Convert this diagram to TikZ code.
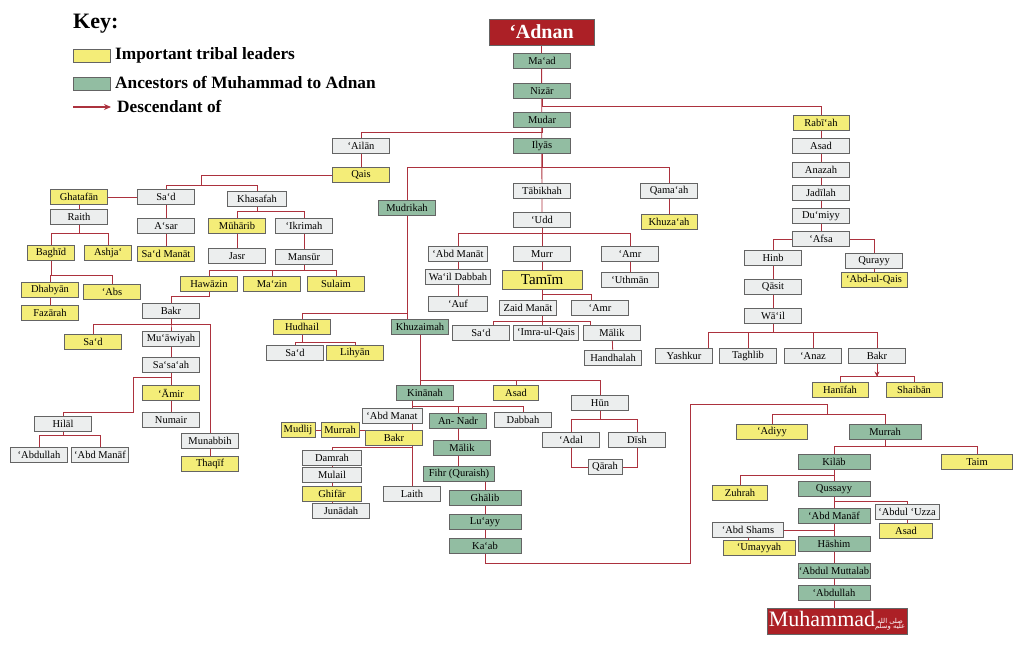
\documentclass[tikz,border=0pt]{standalone}
\usepackage{fontspec}
\setmainfont{Liberation Serif}
\newfontfamily\arabicfont[Script=Arabic]{DejaVu Sans}
\TeXXeTstate=1
\usetikzlibrary{backgrounds,arrows.meta}

\definecolor{leadfill}{RGB}{244,237,120}
\definecolor{ancfill}{RGB}{146,189,162}
\definecolor{memfill}{RGB}{236,238,238}
\definecolor{boxline}{RGB}{100,100,100}
\definecolor{linkred}{RGB}{172,50,62}
\definecolor{headred}{RGB}{172,32,38}

\tikzset{
  box/.style={draw=boxline, line width=0.7pt, minimum width=57pt, minimum height=14.5pt,
    inner sep=0.5pt, font=\fontsize{10.5}{11}\selectfont},
  member/.style={box, fill=memfill},
  leader/.style={box, fill=leadfill},
  ancestor/.style={box, fill=ancfill},
  headbox/.style={draw=boxline, fill=headred, text=white, inner sep=0pt},
  keytext/.style={anchor=west, inner sep=0pt, font=\bfseries\fontsize{17.3}{19}\selectfont},
  link/.style={draw=linkred, line width=0.8pt},
}
\newcommand\sealtext{{\arabicfont\fontsize{6.8}{7}\selectfont
  \begin{tabular}{@{}c@{}}\beginR صلى الله\endR\\[-2pt]\beginR عليه وسلم\endR\end{tabular}}}

\begin{document}
\begin{tikzpicture}[x=1pt,y=-1pt]
\useasboundingbox (0,0) rectangle (1024,647);

% key
\node[anchor=west, inner sep=0pt, font=\bfseries\fontsize{22}{24}\selectfont] (key) at (73,24) {Key:};
\node[leader, minimum width=37pt, minimum height=12.5pt] (keylead) at (91.5,56) {};
\node[keytext] (keyleadtxt) at (115,55) {Important tribal leaders};
\node[ancestor, minimum width=37pt, minimum height=12.5pt] (keyanc) at (91.5,84) {};
\node[keytext] (keyanctxt) at (115,83) {Ancestors of Muhammad to Adnan};
\node[keytext] (keydesc) at (117,106) {Descendant of};
\coordinate (keyarrow) at (73,107);
\draw[link, line width=1.8pt, -{Stealth[length=7pt,width=6pt]}] (keyarrow) -- ([xshift=-6pt]keydesc.west |- keyarrow);

% main line
\node[headbox, minimum width=105pt, minimum height=26pt, font=\bfseries\fontsize{20}{22}\selectfont] (adnan) at (541.5,32) {‘Adnan};
\node[ancestor] (maad) at (542,61) {Ma‘ad};
\node[ancestor] (nizar) at (542,91) {Nizār};
\node[ancestor] (mudar) at (542,120) {Mudar};
\node[ancestor] (ilyas) at (542,146) {Ilyās};

% Qais 'Ailan
\node[member] (ailan) at (361,146) {‘Ailān};
\node[leader] (qais) at (361,175) {Qais};
\node[member] (sada) at (166,197) {Sa‘d};
\node[member, minimum width=59pt] (khasafah) at (257,199) {Khasafah};
\node[leader] (ghatafan) at (79,197) {Ghatafān};
\node[member] (raith) at (79,217) {Raith};
\node[leader, minimum width=47pt] (baghid) at (51,253) {Baghīd};
\node[leader, minimum width=47pt] (ashja) at (108,253) {Ashja‘};
\node[leader] (dhabyan) at (50,290) {Dhabyān};
\node[leader] (abs) at (112,292) {‘Abs};
\node[leader] (fazarah) at (50,313) {Fazārah};
\node[member] (asar) at (166,226) {A‘sar};
\node[leader] (sadmanat) at (166,254) {Sa‘d Manāt};
\node[leader] (muharib) at (237,226) {Mūhārib};
\node[member] (ikrimah) at (304,226) {‘Ikrimah};
\node[member] (jasr) at (237,256) {Jasr};
\node[member] (mansur) at (304,257) {Mansūr};
\node[leader] (hawazin) at (209,284) {Hawāzin};
\node[leader] (mazin) at (272,284) {Ma‘zin};
\node[leader] (sulaim) at (336,284) {Sulaim};
\node[member] (bakra) at (171,311) {Bakr};
\node[leader] (sadb) at (93,342) {Sa‘d};
\node[member] (muawiyah) at (171,339) {Mu‘āwiyah};
\node[member] (sasaah) at (171,365) {Sa‘sa‘ah};
\node[leader] (amir) at (171,393) {‘Āmir};
\node[member] (numair) at (171,420) {Numair};
\node[member] (hilal) at (63,424) {Hilāl};
\node[member] (abdullaha) at (39,455) {‘Abdullah};
\node[member] (abdmanafa) at (100,455) {‘Abd Manāf};
\node[member] (munabbih) at (210,441) {Munabbih};
\node[leader] (thaqif) at (210,464) {Thaqīf};

% Mudrikah
\node[ancestor] (mudrikah) at (407,208) {Mudrikah};
\node[leader] (hudhail) at (302,327) {Hudhail};
\node[member] (sadc) at (295,353) {Sa‘d};
\node[leader] (lihyan) at (355,353) {Lihyān};
\node[ancestor] (khuzaimah) at (420,327) {Khuzaimah};
\node[ancestor] (kinanah) at (425,393) {Kinānah};
\node[leader, minimum width=45pt] (asadb) at (516,393) {Asad};
\node[member] (hun) at (600,403) {Hūn};
\node[member] (adal) at (571,440) {‘Adal};
\node[member] (dish) at (637,440) {Dīsh};
\node[member, minimum width=34pt] (qarah) at (605,467) {Qārah};
\node[member] (dabbah) at (523,420) {Dabbah};
\node[ancestor] (annadr) at (458,421) {An- Nadr};
\node[ancestor] (malikb) at (462,448) {Mālik};
\node[ancestor, minimum width=71pt] (fihr) at (459,474) {Fihr (Quraish)};
\node[ancestor, minimum width=72pt] (ghalib) at (485,498) {Ghālib};
\node[ancestor, minimum width=72pt] (luayy) at (485,522) {Lu‘ayy};
\node[ancestor, minimum width=72pt] (kaab) at (485,546) {Ka‘ab};
\node[member, minimum width=60pt] (abdmanatb) at (392,416) {‘Abd Manat};
\node[leader, minimum width=38pt] (murrahb) at (340,430) {Murrah};
\node[leader, minimum width=34pt] (mudlij) at (298,430) {Mudlij};
\node[leader] (bakrb) at (394,438) {Bakr};
\node[member, minimum width=59pt] (damrah) at (332,458) {Damrah};
\node[member, minimum width=59pt] (mulail) at (332,475) {Mulail};
\node[leader, minimum width=59pt] (ghifar) at (332,494) {Ghifār};
\node[member] (junadah) at (341,511) {Junādah};
\node[member] (laith) at (412,494) {Laith};

% Tabikhah
\node[member] (tabikhah) at (542,191) {Tābikhah};
\node[member] (qamaah) at (669,191) {Qama‘ah};
\node[leader, minimum width=56pt] (khuzaah) at (669,222) {Khuza‘ah};
\node[member] (udd) at (542,220) {‘Udd};
\node[member, minimum width=59pt] (abdmanata) at (458,254) {‘Abd Manāt};
\node[member, minimum width=65pt] (waildabbah) at (458,277) {Wa‘il Dabbah};
\node[member, minimum width=59pt] (auf) at (458,304) {‘Auf};
\node[member] (murr) at (542,254) {Murr};
\node[leader, minimum width=80pt, minimum height=19pt, font=\fontsize{15}{16}\selectfont] (tamim) at (542,280) {Tamīm};
\node[member] (amra) at (630,254) {‘Amr};
\node[member] (uthman) at (630,280) {‘Uthmān};
\node[member] (zaidmanat) at (528,308) {Zaid Manāt};
\node[member] (amrb) at (600,308) {‘Amr};
\node[member] (sadd) at (481,333) {Sa‘d};
\node[member, minimum width=65pt] (imraulqais) at (546,333) {‘Imra-ul-Qais};
\node[member] (malika) at (612,333) {Mālik};
\node[member] (handhalah) at (613,358) {Handhalah};

% Rabi'ah
\node[leader, minimum width=56pt] (rabiah) at (821,123) {Rabī‘ah};
\node[member] (asada) at (821,146) {Asad};
\node[member] (anazah) at (821,170) {Anazah};
\node[member] (jadilah) at (821,193) {Jadīlah};
\node[member] (dumiyy) at (821,216) {Du‘miyy};
\node[member] (afsa) at (821,239) {‘Afsa};
\node[member] (hinb) at (773,258) {Hinb};
\node[member] (qurayy) at (874,261) {Qurayy};
\node[leader, minimum width=66pt] (abdulqais) at (874,280) {‘Abd-ul-Qais};
\node[member] (qasit) at (773,287) {Qāsit};
\node[member] (wail) at (773,316) {Wā‘il};
\node[member] (yashkur) at (684,356) {Yashkur};
\node[member] (taghlib) at (748,356) {Taghlib};
\node[member] (anaz) at (813,356) {‘Anaz};
\node[member] (bakrc) at (877,356) {Bakr};
\node[leader, minimum width=56pt] (hanifah) at (840,390) {Hanīfah};
\node[leader, minimum width=56pt] (shaiban) at (914,390) {Shaibān};

% Ka'ab to Muhammad
\node[leader, minimum width=71pt] (adiyy) at (772,432) {‘Adiyy};
\node[ancestor, minimum width=72pt] (murrahc) at (885,432) {Murrah};
\node[ancestor, minimum width=72pt] (kilab) at (834,462) {Kilāb};
\node[leader, minimum width=71pt] (taim) at (977,462) {Taim};
\node[leader, minimum width=55pt] (zuhrah) at (740,493) {Zuhrah};
\node[ancestor, minimum width=72pt] (qussayy) at (834,489) {Qussayy};
\node[ancestor, minimum width=72pt] (abdmanafb) at (834,516) {‘Abd Manāf};
\node[member, minimum width=64pt] (abduluzza) at (907,512) {‘Abdul ‘Uzza};
\node[leader, minimum width=53pt] (asadc) at (906,531) {Asad};
\node[member, minimum width=71pt] (abdshams) at (748,530) {‘Abd Shams};
\node[leader, minimum width=72pt] (umayyah) at (759,548) {‘Umayyah};
\node[ancestor, minimum width=72pt] (hashim) at (834,544) {Hāshim};
\node[ancestor, minimum width=72pt] (abdulmuttalab) at (834,571) {‘Abdul Muttalab};
\node[ancestor, minimum width=72pt] (abdullahb) at (834,593) {‘Abdullah};
\node[headbox, minimum width=140pt, minimum height=26pt, font=\fontsize{22}{24}\selectfont] (muhammad) at (837,621)
  {Muhammad\sealtext};

\begin{scope}[on background layer]
% Mudar and Rabi'ah
\draw[link] (adnan) -- (udd);
\draw[link] (nizar) -- ++(0,15) -| (rabiah);
\draw[link] (mudar) -- ++(0,12) -| (ailan);
\draw[link] (ilyas) -- ++(0,21) -| (mudrikah);
\draw[link] (ilyas) -- ++(0,21) -| (qamaah);
% Qais
\draw[link] (ailan) -- (qais);
\draw[link] (qais) -| ++(-160,10) -| (sada);
\draw[link] (qais) -| ++(-160,10) -| (khasafah);
\draw[link] (sada) -- (ghatafan);
\draw[link] (sada) -- (sadmanat);
\draw[link] (ghatafan) -- (raith);
\foreach \kid in {baghid,ashja} \draw[link] (raith) -- ++(0,16) -| (\kid);
\foreach \kid in {dhabyan,abs} \draw[link] (baghid) -- ++(0,22) -| (\kid);
\draw[link] (dhabyan) -- (fazarah);
\foreach \kid in {muharib,ikrimah} \draw[link] (khasafah) -- ++(0,12) -| (\kid);
\draw[link] (muharib) -- (jasr);
\draw[link] (ikrimah) -- (mansur);
\foreach \kid in {hawazin,mazin,sulaim} \draw[link] (mansur) -- ++(0,13) -| (\kid);
\draw[link] (hawazin) -- ++(0,12) -| (bakra);
\foreach \kid in {sadb,muawiyah,munabbih} \draw[link] (bakra) -- ++(0,13) -| (\kid);
\draw[link] (muawiyah) -- (numair);
\draw[link] (sasaah) -- ++(0,12) -| ++(-38,35) -| (hilal);
\foreach \kid in {abdullaha,abdmanafa} \draw[link] (hilal) -- ++(0,11) -| (\kid);
\draw[link] (munabbih) -- (thaqif);
% Mudrikah
\draw[link] (mudrikah) -- (mudrikah |- khuzaimah);
\draw[link] (mudrikah) -- ++(0,105) -| (hudhail);
\foreach \kid in {sadc,lihyan} \draw[link] (hudhail) -- ++(0,15) -| (\kid);
\draw[link] (khuzaimah) -- (khuzaimah |- kinanah);
\foreach \kid in {asadb,hun} \draw[link] (khuzaimah) -- ++(0,53) -| (\kid);
\draw[link] (kinanah.south -| laith) -- (laith);
\foreach \kid in {annadr,dabbah} \draw[link] (kinanah.south -| laith) -- ++(0,6) -| (\kid);
\draw[link] (laith |- murrahb) -- (mudlij);
\draw[link] (laith |- bakrb.south) -- ++(0,2) -| (damrah);
\draw[link] (damrah) -- (ghifar);
\draw[link] (ghifar) -- (ghifar |- junadah);
\draw[link] (annadr) -- (annadr |- fihr);
\draw[link] (ghalib) -- (ghalib |- fihr);
\draw[link] (ghalib) -- (kaab);
\foreach \kid in {adal,dish} \draw[link] (hun) -- ++(0,16) -| (\kid);
\draw[link] (adal) |- (qarah);
\draw[link] (dish) |- (qarah);
% Tabikhah
\foreach \kid in {abdmanata,amra} \draw[link] (udd) -- ++(0,13) -| (\kid);
\draw[link] (udd) -- (udd |- imraulqais);
\draw[link] (abdmanata) -- (auf);
\draw[link] (amra) -- (uthman);
\draw[link] (tamim) -- ++(0,14) -| ([xshift=-9pt]amrb.north);
\path (udd) ++(0,101) coordinate (zbus);
\draw[link] (zbus) -| ([xshift=12pt]sadd.north);
\draw[link] (zbus) -| ([xshift=-22pt]malika.north);
\draw[link] (malika) -- (handhalah);
\draw[link] (qamaah) -- (khuzaah);
% Rabi'ah
\draw[link] (rabiah) -- (afsa);
\draw[link] (afsa) -| (hinb);
\draw[link] (afsa) -| (qurayy);
\draw[link] (hinb) -- (wail);
\draw[link] (qurayy) -- (abdulqais);
\draw[link] (wail) -- ++(0,16) -| ([xshift=-4pt]yashkur.north east);
\foreach \kid in {taghlib,anaz,bakrc} \draw[link] (wail) -- ++(0,16) -| (\kid);
\foreach \kid in {hanifah,shaiban} \draw[link] (bakrc) -- ++(0,20) -| (\kid);
% Ka'ab to Muhammad
\path (murrahc) ++(-58,-18) coordinate (kbus);
\draw[link] (kaab) -- ++(0,17) -| ++(205,-159) -| (kbus) -| (adiyy);
\draw[link] (kbus) -| (murrahc);
\foreach \kid in {kilab,taim} \draw[link] (murrahc) -- ++(0,14) -| (\kid);
\draw[link] (kilab) -- ++(0,13) -| (zuhrah);
\draw[link] (kilab) -- (kilab |- muhammad);
\draw[link] (qussayy) -- ++(0,12) -| (abduluzza);
\draw[link] (abduluzza) -- (abduluzza |- asadc);
\draw[link] (abdshams) -- (abdshams -| hashim);
\draw[link] (abdshams) -- (abdshams |- umayyah);
\end{scope}
\draw[link, -{Stealth[length=5pt,width=5pt]}] (bakrc.south) -- ++(0,13);

\end{tikzpicture}
\end{document}
